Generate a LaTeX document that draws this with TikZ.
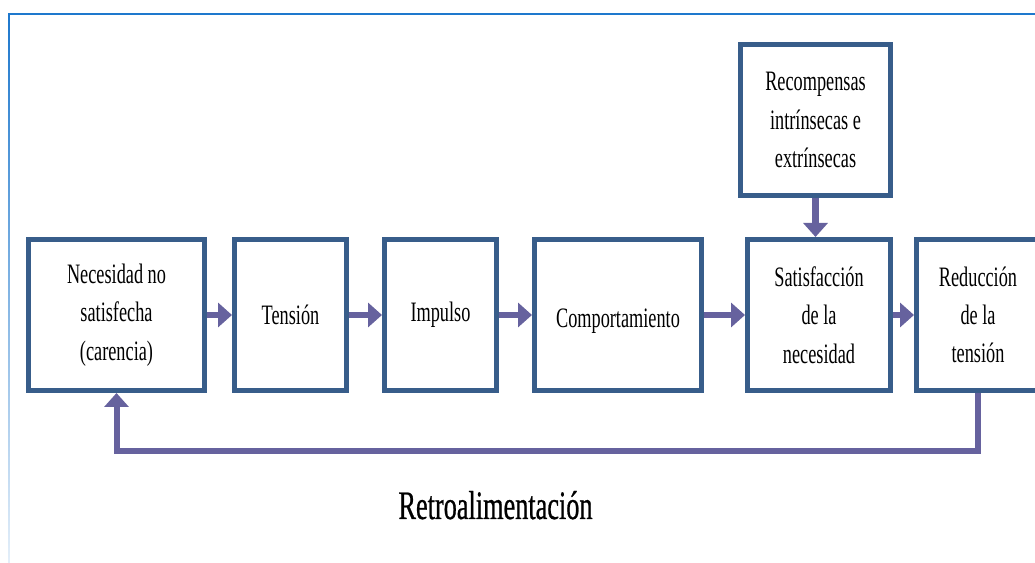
\documentclass[tikz,border=0pt]{standalone}
\usepackage{fontspec}
\newfontfamily\condfont[FakeStretch=0.65]{Liberation Serif}
\newfontfamily\heavyfont[FakeStretch=0.65,FakeBold=0.6]{Liberation Serif}
\usetikzlibrary{positioning,arrows.meta}
\definecolor{boxblue}{RGB}{56,93,138}
\definecolor{arrowpurple}{RGB}{102,98,158}
\definecolor{frameblue}{RGB}{30,120,205}
\tikzset{
  stage/.style  = {draw=boxblue, line width=1mm, fill=white, inner sep=2pt,
                   minimum height=3.02cm, align=center,
                   font=\condfont\fontsize{16}{21.8}\selectfont},
  flow/.style   = {draw=arrowpurple, line width=1.3mm,
                   -{Triangle[width=4.8mm,length=2.8mm]}},
  fbline/.style = {draw=arrowpurple, line width=1.2mm,
                   -{Triangle[width=4.8mm,length=2.8mm]}},
  retro/.style  = {font=\heavyfont\fontsize{23}{28}\selectfont, inner sep=0pt},
}
\begin{document}
\begin{tikzpicture}
  \useasboundingbox (0,0) rectangle (20.7,11.26);
  \clip (0,0) rectangle (20.7,11.26);
  % frame
  \draw[frameblue, line width=0.5mm] (0.18,10.98) -- (20.7,10.98);
  \shade[top color=frameblue, bottom color=frameblue!12]
    (0.16,0) rectangle (0.20,10.98);
  % stages
  \node[stage, minimum width=3.52cm] (nec) at (2.33,4.96)
    {Necesidad no\\satisfecha\\(carencia)};
  \node[stage, minimum width=2.24cm] (ten) at (5.81,4.96) {Tensión};
  \node[stage, minimum width=2.24cm] (imp) at (8.81,4.96) {Impulso};
  \node[stage, minimum width=3.34cm, text height=0.62cm] (com) at (12.36,4.96)
    {Comportamiento};
  \node[stage, minimum width=2.86cm] (sat) at (16.38,4.96)
    {Satisfacción\\de la\\necesidad};
  \node[stage, minimum width=2.46cm] (red) at (19.56,4.96)
    {Reducción\\de la\\tensión};
  \node[stage, minimum width=3.0cm] (rec) at (16.31,8.86)
    {Recompensas\\intrínsecas e\\extrínsecas};
  % arrows
  \draw[flow] (nec) -- (ten);
  \draw[flow] (ten) -- (imp);
  \draw[flow] (imp) -- (com);
  \draw[flow] (com) -- (sat);
  \draw[flow] (sat) -- (red);
  \draw[flow] (rec.south) -- (rec.south |- sat.north);
  % feedback loop
  \coordinate (fb) at (0,2.24);
  \draw[fbline] (red.south) -- (red.south |- fb) -| (nec.south);
  \node[retro, anchor=base] (lbl) at (9.91,0.88) {Retroalimentación};
\end{tikzpicture}
\end{document}
